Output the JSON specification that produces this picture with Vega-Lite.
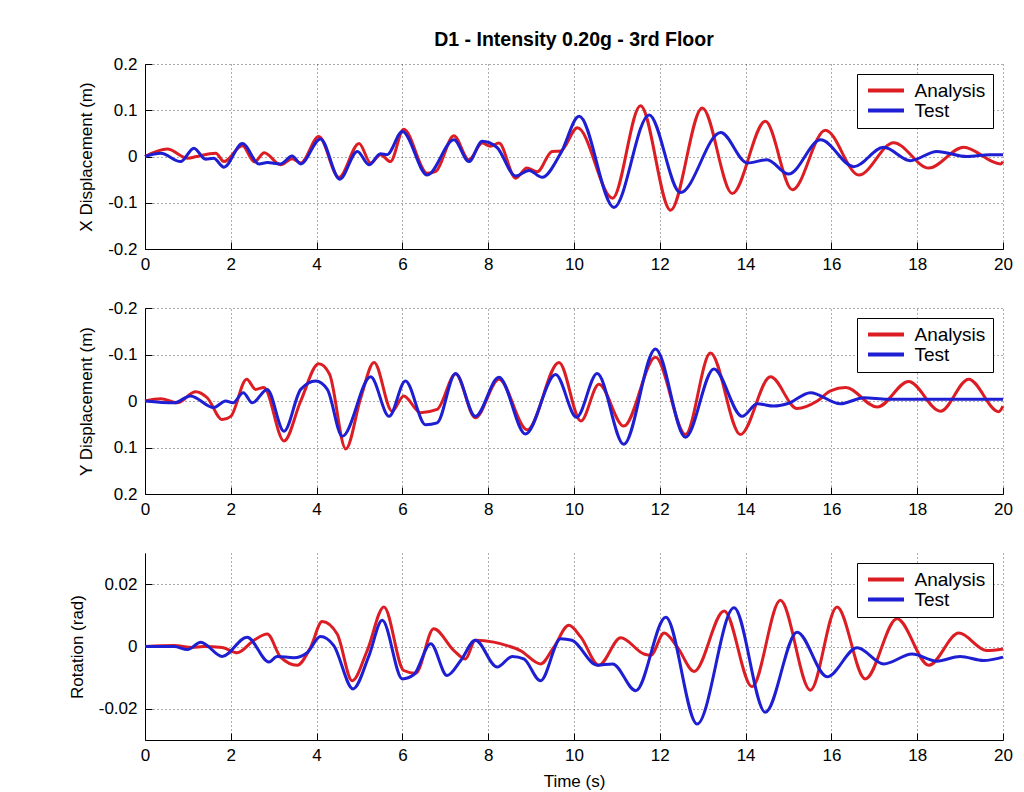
{
  "$schema": "https://vega.github.io/schema/vega-lite/v6.json",
  "background": "white",
  "padding": {"left": 68, "top": 29, "right": 5, "bottom": 5},
  "spacing": 59,
  "bounds": "flush",
  "config": {
    "view": {"stroke": null},
    "font": "Liberation Sans",
    "axis": {
      "domainColor": "black", "domainWidth": 1, "tickColor": "black", "tickSize": -7, "tickWidth": 1,
      "labelColor": "black", "titleColor": "black", "labelFont": "Liberation Sans", "titleFont": "Liberation Sans",
      "labelFontSize": 17, "titleFontSize": 17, "titleFontWeight": "normal", "labelFlush": false,
      "gridColor": "#333", "gridDash": [1, 3], "gridWidth": 1, "gridOpacity": 0.8, "grid": true
    },
    "axisX": {"labelPadding": 14},
    "axisY": {"labelPadding": 15, "titlePadding": 12},
    "legend": {
      "orient": "top-right", "offset": 10, "strokeColor": "black", "fillColor": "white", "padding": 7,
      "symbolType": "M-2.4,0H2.4", "symbolStrokeWidth": 4, "symbolSize": 225, "symbolOffset": 12.5, "labelFontSize": 19,
      "labelFont": "Liberation Sans", "labelColor": "black", "rowPadding": 0, "labelOffset": 19, "cornerRadius": 0,
      "labelExpr": "datum.label + '\u00a0\u00a0'"
    }
  },
  "resolve": {"scale": {"color": "independent"}, "legend": {"color": "independent"}},
  "datasets": {
    "x": [
      {"series":"Analysis","t":0,"v":0},{"series":"Analysis","t":0.52,"v":0.016},{"series":"Analysis","t":1.0,"v":-0.004},{"series":"Analysis","t":1.2,"v":0.0},{"series":"Analysis","t":1.65,"v":0.007},{"series":"Analysis","t":1.84,"v":-0.011},{"series":"Analysis","t":2.27,"v":0.023},{"series":"Analysis","t":2.55,"v":-0.012},{"series":"Analysis","t":2.78,"v":0.008},{"series":"Analysis","t":3.16,"v":-0.018},{"series":"Analysis","t":3.43,"v":-0.005},{"series":"Analysis","t":3.63,"v":-0.014},{"series":"Analysis","t":4.05,"v":0.043},{"series":"Analysis","t":4.52,"v":-0.045},{"series":"Analysis","t":4.99,"v":0.028},{"series":"Analysis","t":5.26,"v":-0.014},{"series":"Analysis","t":5.49,"v":0.004},{"series":"Analysis","t":5.72,"v":-0.011},{"series":"Analysis","t":6.03,"v":0.059},{"series":"Analysis","t":6.58,"v":-0.036},{"series":"Analysis","t":6.78,"v":-0.032},{"series":"Analysis","t":7.2,"v":0.045},{"series":"Analysis","t":7.55,"v":-0.007},{"series":"Analysis","t":7.86,"v":0.029},{"series":"Analysis","t":8.05,"v":0.022},{"series":"Analysis","t":8.25,"v":0.029},{"series":"Analysis","t":8.64,"v":-0.047},{"series":"Analysis","t":8.9,"v":-0.025},{"series":"Analysis","t":9.14,"v":-0.033},{"series":"Analysis","t":9.49,"v":0.011},{"series":"Analysis","t":9.69,"v":0.012},{"series":"Analysis","t":10.08,"v":0.062},{"series":"Analysis","t":10.9,"v":-0.09},{"series":"Analysis","t":11.55,"v":0.11},{"series":"Analysis","t":12.25,"v":-0.116},{"series":"Analysis","t":12.99,"v":0.105},{"series":"Analysis","t":13.69,"v":-0.08},{"series":"Analysis","t":14.46,"v":0.076},{"series":"Analysis","t":15.09,"v":-0.072},{"series":"Analysis","t":15.86,"v":0.057},{"series":"Analysis","t":16.64,"v":-0.04},{"series":"Analysis","t":17.45,"v":0.03},{"series":"Analysis","t":18.27,"v":-0.025},{"series":"Analysis","t":19.08,"v":0.02},{"series":"Analysis","t":19.94,"v":-0.016},{"series":"Analysis","t":20,"v":-0.011},
      {"series":"Test","t":0,"v":0},{"series":"Test","t":0.37,"v":0.007},{"series":"Test","t":0.83,"v":-0.011},{"series":"Test","t":1.14,"v":0.018},{"series":"Test","t":1.41,"v":-0.006},{"series":"Test","t":1.6,"v":-0.004},{"series":"Test","t":1.84,"v":-0.023},{"series":"Test","t":2.27,"v":0.028},{"series":"Test","t":2.66,"v":-0.016},{"series":"Test","t":2.85,"v":-0.013},{"series":"Test","t":3.16,"v":-0.016},{"series":"Test","t":3.43,"v":0.001},{"series":"Test","t":3.63,"v":-0.016},{"series":"Test","t":4.09,"v":0.038},{"series":"Test","t":4.54,"v":-0.049},{"series":"Test","t":4.95,"v":0.011},{"series":"Test","t":5.22,"v":-0.018},{"series":"Test","t":5.49,"v":0.006},{"series":"Test","t":5.64,"v":0.004},{"series":"Test","t":6.0,"v":0.054},{"series":"Test","t":6.58,"v":-0.04},{"series":"Test","t":7.2,"v":0.036},{"series":"Test","t":7.55,"v":-0.011},{"series":"Test","t":7.86,"v":0.033},{"series":"Test","t":8.2,"v":0.02},{"series":"Test","t":8.64,"v":-0.042},{"series":"Test","t":8.95,"v":-0.03},{"series":"Test","t":9.26,"v":-0.045},{"series":"Test","t":9.69,"v":0.007},{"series":"Test","t":10.12,"v":0.087},{"series":"Test","t":10.93,"v":-0.11},{"series":"Test","t":11.75,"v":0.09},{"series":"Test","t":12.48,"v":-0.078},{"series":"Test","t":13.42,"v":0.052},{"series":"Test","t":14.04,"v":-0.014},{"series":"Test","t":14.5,"v":-0.007},{"series":"Test","t":15.0,"v":-0.038},{"series":"Test","t":15.75,"v":0.036},{"series":"Test","t":16.52,"v":-0.022},{"series":"Test","t":17.22,"v":0.02},{"series":"Test","t":17.84,"v":-0.009},{"series":"Test","t":18.46,"v":0.011},{"series":"Test","t":19.16,"v":0.0},{"series":"Test","t":19.7,"v":0.004},{"series":"Test","t":20,"v":0.004}
    ],
    "y": [
      {"series":"Analysis","t":0,"v":0},{"series":"Analysis","t":0.37,"v":-0.005},{"series":"Analysis","t":0.75,"v":0.004},{"series":"Analysis","t":1.18,"v":-0.02},{"series":"Analysis","t":1.45,"v":-0.007},{"series":"Analysis","t":1.8,"v":0.04},{"series":"Analysis","t":2.0,"v":0.033},{"series":"Analysis","t":2.37,"v":-0.047},{"series":"Analysis","t":2.58,"v":-0.025},{"series":"Analysis","t":2.77,"v":-0.029},{"series":"Analysis","t":3.24,"v":0.086},{"series":"Analysis","t":3.63,"v":0.0},{"series":"Analysis","t":4.05,"v":-0.08},{"series":"Analysis","t":4.3,"v":-0.058},{"series":"Analysis","t":4.68,"v":0.103},{"series":"Analysis","t":5.03,"v":-0.007},{"series":"Analysis","t":5.34,"v":-0.083},{"series":"Analysis","t":5.76,"v":0.022},{"series":"Analysis","t":6.03,"v":-0.011},{"series":"Analysis","t":6.42,"v":0.025},{"series":"Analysis","t":6.81,"v":0.018},{"series":"Analysis","t":7.24,"v":-0.058},{"series":"Analysis","t":7.7,"v":0.036},{"series":"Analysis","t":8.25,"v":-0.047},{"series":"Analysis","t":8.91,"v":0.062},{"series":"Analysis","t":9.65,"v":-0.083},{"series":"Analysis","t":10.16,"v":0.043},{"series":"Analysis","t":10.58,"v":-0.036},{"series":"Analysis","t":11.16,"v":0.054},{"series":"Analysis","t":11.9,"v":-0.094},{"series":"Analysis","t":12.6,"v":0.072},{"series":"Analysis","t":13.18,"v":-0.103},{"series":"Analysis","t":13.88,"v":0.072},{"series":"Analysis","t":14.58,"v":-0.052},{"series":"Analysis","t":15.2,"v":0.016},{"series":"Analysis","t":15.67,"v":0.0},{"series":"Analysis","t":15.98,"v":-0.022},{"series":"Analysis","t":16.33,"v":-0.029},{"series":"Analysis","t":17.07,"v":0.013},{"series":"Analysis","t":17.8,"v":-0.042},{"series":"Analysis","t":18.54,"v":0.022},{"series":"Analysis","t":19.2,"v":-0.047},{"series":"Analysis","t":19.9,"v":0.023},{"series":"Analysis","t":20,"v":0.011},
      {"series":"Test","t":0,"v":0},{"series":"Test","t":0.68,"v":0.004},{"series":"Test","t":1.06,"v":-0.011},{"series":"Test","t":1.6,"v":0.014},{"series":"Test","t":1.88,"v":0.0},{"series":"Test","t":2.05,"v":0.004},{"series":"Test","t":2.29,"v":-0.018},{"series":"Test","t":2.5,"v":0.004},{"series":"Test","t":2.85,"v":-0.025},{"series":"Test","t":3.24,"v":0.065},{"series":"Test","t":3.63,"v":-0.025},{"series":"Test","t":3.98,"v":-0.043},{"series":"Test","t":4.25,"v":-0.025},{"series":"Test","t":4.6,"v":0.076},{"series":"Test","t":5.26,"v":-0.052},{"series":"Test","t":5.69,"v":0.033},{"series":"Test","t":6.07,"v":-0.043},{"series":"Test","t":6.54,"v":0.051},{"series":"Test","t":6.81,"v":0.047},{"series":"Test","t":7.24,"v":-0.059},{"series":"Test","t":7.7,"v":0.033},{"series":"Test","t":8.25,"v":-0.051},{"series":"Test","t":8.87,"v":0.071},{"series":"Test","t":9.57,"v":-0.057},{"series":"Test","t":10.06,"v":0.035},{"series":"Test","t":10.54,"v":-0.059},{"series":"Test","t":11.16,"v":0.093},{"series":"Test","t":11.9,"v":-0.112},{"series":"Test","t":12.6,"v":0.078},{"series":"Test","t":13.26,"v":-0.069},{"series":"Test","t":13.92,"v":0.033},{"series":"Test","t":14.27,"v":0.006},{"series":"Test","t":14.66,"v":0.011},{"series":"Test","t":14.97,"v":0.006},{"series":"Test","t":15.51,"v":-0.018},{"series":"Test","t":16.21,"v":0.006},{"series":"Test","t":16.76,"v":-0.007},{"series":"Test","t":17.3,"v":-0.004},{"series":"Test","t":18.5,"v":-0.004},{"series":"Test","t":20,"v":-0.004}
    ],
    "r": [
      {"series":"Analysis","t":0,"v":0},{"series":"Analysis","t":0.68,"v":0.0003},{"series":"Analysis","t":1.1,"v":-0.0003},{"series":"Analysis","t":1.37,"v":0.0},{"series":"Analysis","t":1.8,"v":-0.0003},{"series":"Analysis","t":2.15,"v":-0.002},{"series":"Analysis","t":2.54,"v":0.002},{"series":"Analysis","t":2.85,"v":0.004},{"series":"Analysis","t":3.16,"v":-0.0034},{"series":"Analysis","t":3.55,"v":-0.006},{"series":"Analysis","t":3.86,"v":-0.0002},{"series":"Analysis","t":4.13,"v":0.008},{"series":"Analysis","t":4.48,"v":0.004},{"series":"Analysis","t":4.83,"v":-0.011},{"series":"Analysis","t":5.18,"v":-0.0013},{"series":"Analysis","t":5.57,"v":0.0127},{"series":"Analysis","t":6.03,"v":-0.0077},{"series":"Analysis","t":6.31,"v":-0.0086},{"series":"Analysis","t":6.73,"v":0.0057},{"series":"Analysis","t":7.2,"v":-0.0013},{"series":"Analysis","t":7.47,"v":-0.004},{"series":"Analysis","t":7.7,"v":0.002},{"series":"Analysis","t":8.13,"v":0.0014},{"series":"Analysis","t":8.44,"v":0.0003},{"series":"Analysis","t":8.75,"v":-0.0013},{"series":"Analysis","t":9.22,"v":-0.0056},{"series":"Analysis","t":9.53,"v":-0.0002},{"series":"Analysis","t":9.88,"v":0.0068},{"series":"Analysis","t":10.16,"v":0.003},{"series":"Analysis","t":10.58,"v":-0.006},{"series":"Analysis","t":11.09,"v":0.0028},{"series":"Analysis","t":11.63,"v":-0.0024},{"series":"Analysis","t":11.79,"v":-0.0028},{"series":"Analysis","t":12.1,"v":0.0043},{"series":"Analysis","t":12.41,"v":-0.0002},{"series":"Analysis","t":12.8,"v":-0.008},{"series":"Analysis","t":13.5,"v":0.0114},{"series":"Analysis","t":14.15,"v":-0.0129},{"series":"Analysis","t":14.81,"v":0.0148},{"series":"Analysis","t":15.51,"v":-0.014},{"series":"Analysis","t":16.13,"v":0.0127},{"series":"Analysis","t":16.79,"v":-0.0104},{"series":"Analysis","t":17.53,"v":0.0089},{"series":"Analysis","t":18.27,"v":-0.006},{"series":"Analysis","t":18.97,"v":0.0043},{"series":"Analysis","t":19.62,"v":-0.0013},{"series":"Analysis","t":20,"v":-0.0008},
      {"series":"Test","t":0,"v":0},{"series":"Test","t":0.68,"v":0.0},{"series":"Test","t":0.99,"v":-0.001},{"series":"Test","t":1.3,"v":0.0014},{"series":"Test","t":1.8,"v":-0.0032},{"series":"Test","t":2.38,"v":0.003},{"series":"Test","t":2.89,"v":-0.005},{"series":"Test","t":3.08,"v":-0.0032},{"series":"Test","t":3.47,"v":-0.0036},{"series":"Test","t":3.78,"v":-0.002},{"series":"Test","t":4.09,"v":0.0032},{"series":"Test","t":4.4,"v":0.0003},{"series":"Test","t":4.85,"v":-0.0136},{"series":"Test","t":5.22,"v":-0.003},{"series":"Test","t":5.53,"v":0.0084},{"series":"Test","t":6.0,"v":-0.0104},{"series":"Test","t":6.27,"v":-0.009},{"series":"Test","t":6.66,"v":0.0009},{"series":"Test","t":7.04,"v":-0.0093},{"series":"Test","t":7.36,"v":-0.0045},{"series":"Test","t":7.7,"v":0.002},{"series":"Test","t":8.21,"v":-0.0066},{"series":"Test","t":8.56,"v":-0.0032},{"series":"Test","t":8.83,"v":-0.004},{"series":"Test","t":9.22,"v":-0.011},{"series":"Test","t":9.69,"v":0.0025},{"series":"Test","t":9.95,"v":0.002},{"series":"Test","t":10.54,"v":-0.006},{"series":"Test","t":10.9,"v":-0.0056},{"series":"Test","t":11.44,"v":-0.0142},{"series":"Test","t":12.14,"v":0.0094},{"series":"Test","t":12.87,"v":-0.0249},{"series":"Test","t":13.73,"v":0.0124},{"series":"Test","t":14.46,"v":-0.0211},{"series":"Test","t":15.2,"v":0.0046},{"series":"Test","t":15.9,"v":-0.0097},{"series":"Test","t":16.6,"v":-0.0004},{"series":"Test","t":17.22,"v":-0.0056},{"series":"Test","t":17.88,"v":-0.0024},{"series":"Test","t":18.46,"v":-0.0047},{"series":"Test","t":19.0,"v":-0.0032},{"series":"Test","t":19.55,"v":-0.0045},{"series":"Test","t":20,"v":-0.0034}
    ]
  },
  "vconcat": [
    {
      "width": 858, "height": 185,
      "title": {"text": "D1 - Intensity 0.20g - 3rd Floor", "anchor": "middle", "fontSize": 19.5, "fontWeight": "bold", "font": "Liberation Sans", "color": "black", "offset": 5},
      "data": {"name": "x"},
      "mark": {"type": "line", "interpolate": "monotone", "strokeWidth": 3},
      "encoding": {
        "x": {"field": "t", "type": "quantitative", "scale": {"domain": [0, 20], "nice": false}, "axis": {"values": [0,2,4,6,8,10,12,14,16,18,20], "title": null}},
        "y": {"field": "v", "type": "quantitative", "scale": {"domain": [-0.2, 0.2], "nice": false}, "axis": {"values": [-0.2,-0.1,0,0.1,0.2], "title": "X Displacement (m)", "labelExpr": "replace(format(datum.value, '~g'), '\u2212', '-')"}},
        "color": {"field": "series", "type": "nominal", "scale": {"domain": ["Analysis", "Test"], "range": ["#dc1e24", "#1e1ed2"]}, "legend": {"title": null}}
      }
    },
    {
      "width": 858, "height": 186,
      "data": {"name": "y"},
      "mark": {"type": "line", "interpolate": "monotone", "strokeWidth": 3},
      "encoding": {
        "x": {"field": "t", "type": "quantitative", "scale": {"domain": [0, 20], "nice": false}, "axis": {"values": [0,2,4,6,8,10,12,14,16,18,20], "title": null}},
        "y": {"field": "v", "type": "quantitative", "scale": {"domain": [-0.2, 0.2], "nice": false, "reverse": true}, "axis": {"values": [-0.2,-0.1,0,0.1,0.2], "title": "Y Displacement (m)", "labelExpr": "replace(format(datum.value, '~g'), '\u2212', '-')"}},
        "color": {"field": "series", "type": "nominal", "scale": {"domain": ["Analysis", "Test"], "range": ["#dc1e24", "#1e1ed2"]}, "legend": {"title": null}}
      }
    },
    {
      "width": 858, "height": 187,
      "data": {"name": "r"},
      "mark": {"type": "line", "interpolate": "monotone", "strokeWidth": 3},
      "encoding": {
        "x": {"field": "t", "type": "quantitative", "scale": {"domain": [0, 20], "nice": false}, "axis": {"values": [0,2,4,6,8,10,12,14,16,18,20], "title": "Time (s)", "titlePadding": 10}},
        "y": {"field": "v", "type": "quantitative", "scale": {"domain": [-0.03, 0.03], "nice": false}, "axis": {"values": [-0.02,0,0.02], "title": "Rotation (rad)", "labelExpr": "replace(format(datum.value, '~g'), '\u2212', '-')"}},
        "color": {"field": "series", "type": "nominal", "scale": {"domain": ["Analysis", "Test"], "range": ["#dc1e24", "#1e1ed2"]}, "legend": {"title": null}}
      }
    }
  ]
}
